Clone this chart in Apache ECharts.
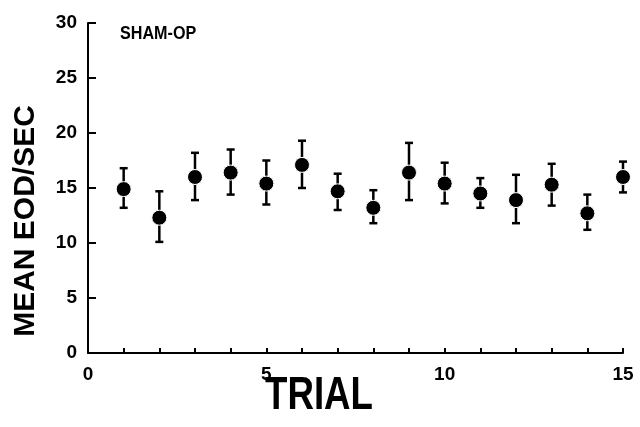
<!DOCTYPE html>
<html><head><meta charset="utf-8">
<script src="https://cdn.jsdelivr.net/npm/echarts@6/dist/echarts.min.js"></script>
<style>html,body{margin:0;padding:0;background:#fff}#c{width:640px;height:427px}</style>
</head><body><div id="c"></div>
<script>
const trials = [1,2,3,4,5,6,7,8,9,10,11,12,13,14,15];
const means  = [14.9,12.3,16.0,16.4,15.4,17.1,14.7,13.2,16.4,15.4,14.5,13.9,15.3,12.7,16.0];
const upper  = [16.8,14.7,18.2,18.5,17.5,19.3,16.3,14.8,19.1,17.3,15.9,16.2,17.2,14.4,17.4];
const lower  = [13.2,10.1,13.9,14.4,13.5,15.0,13.0,11.8,13.9,13.6,13.2,11.8,13.4,11.2,14.6];
const xTicks = [0,5,10,15];
const yTicks = [0,5,10,15,20,25,30];

const chart = echarts.init(document.getElementById('c'), null, {renderer:'canvas'});
const F = '"Liberation Sans", Arial, sans-serif';
const errData = trials.map((t,i)=>[t, lower[i], upper[i]]);
const capW = 4;
chart.setOption({
  animation:false,
  backgroundColor:'#fff',
  grid:{left:88, right:17, top:23, bottom:74, containLabel:false},
  xAxis:{type:'value', min:0, max:15, interval:1,
    axisLine:{show:true, lineStyle:{color:'#000', width:2}},
    axisTick:{show:true, inside:true, length:5, lineStyle:{color:'#000', width:2}},
    splitLine:{show:false},
    axisLabel:{color:'#000', fontFamily:F, fontWeight:'bold', fontSize:19, margin:12,
      formatter:v=>xTicks.includes(v)?String(v):''}
  },
  yAxis:{type:'value', min:0, max:30, interval:5,
    axisLine:{show:true, lineStyle:{color:'#000', width:2}},
    axisTick:{show:true, inside:true, length:8, lineStyle:{color:'#000', width:2}},
    splitLine:{show:false},
    axisLabel:{color:'#000', fontFamily:F, fontWeight:'bold', fontSize:19, margin:11,
      formatter:v=>yTicks.includes(v)?String(v):''}
  },
  graphic:[
    {type:'text', left:120, top:24, style:{text:'SHAM-OP', font:'bold 19px '+F, fill:'#000'}, scaleX:0.85},
    {type:'text', x:319, y:396, scaleX:0.78, style:{text:'TRIAL', font:'bold 47px '+F, fill:'#000', align:'center', verticalAlign:'middle'}},
    {type:'text', x:26, y:221, rotation:Math.PI/2, style:{text:'MEAN EOD/SEC', font:'bold 30px '+F, fill:'#000', align:'center', verticalAlign:'middle'}}
  ],
  series:[
    {type:'custom', data:errData, z:1,
      renderItem:(params, api)=>{
        const x = api.value(0);
        const lo = api.coord([x, api.value(1)]);
        const hi = api.coord([x, api.value(2)]);
        const st = {stroke:'#000', lineWidth:2.5};
        return {type:'group', children:[
          {type:'line', shape:{x1:lo[0], y1:lo[1], x2:hi[0], y2:hi[1]}, style:st},
          {type:'line', shape:{x1:hi[0]-capW, y1:hi[1], x2:hi[0]+capW, y2:hi[1]}, style:st},
          {type:'line', shape:{x1:lo[0]-capW, y1:lo[1], x2:lo[0]+capW, y2:lo[1]}, style:st}
        ]};
      }
    },
    {type:'scatter', data:trials.map((t,i)=>[t, means[i]]), symbol:'circle', symbolSize:15, z:2,
      itemStyle:{color:'#000', opacity:1, borderColor:'#fff', borderWidth:1}}
  ]
});
</script></body></html>
